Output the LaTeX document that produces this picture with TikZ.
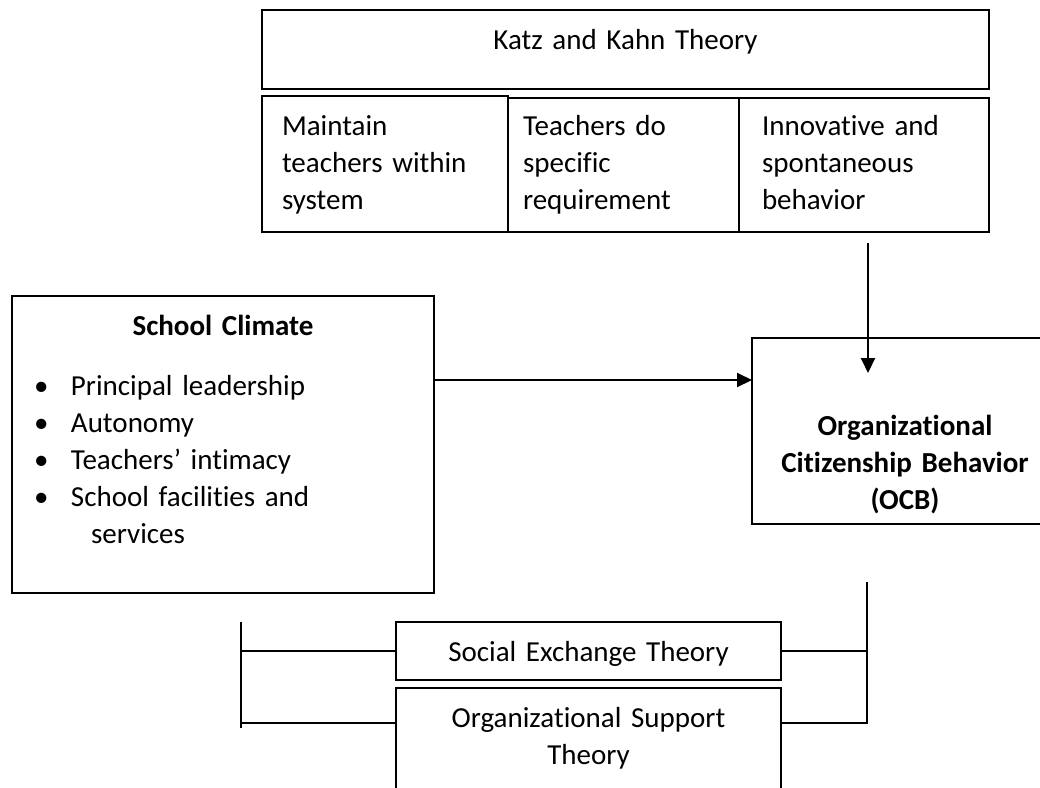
\documentclass[tikz,border=0pt]{standalone}
\usepackage{fontspec}
\setmainfont{Carlito}[Ligatures=CommonOff]
\usetikzlibrary{arrows.meta, positioning, calc}

\newcommand{\bodysize}{\fontsize{29}{37}\selectfont}
\newcommand{\cbul}{\makebox[41pt][l]{\hspace{4pt}\textbullet}}

\begin{document}
\begin{tikzpicture}[x=1pt, y=-1pt,
        box/.style={draw, line width=2pt, outer sep=0pt, anchor=north west, inner xsep=18pt, inner ysep=0pt, text height=39pt, align=left, font=\bodysize},
        bold/.style={font=\bodysize\bfseries},
        line/.style={line width=2pt},
        arr/.style={line width=2pt, -{Triangle[length=15pt, width=14pt]}}
    ]
        \clip (0,0) rectangle (1040,787);

        % Katz and Kahn
        \node[box, text width=691pt, text depth=40pt, align=center] (katz) at (262,10) {Katz and Kahn Theory};
        \node[box, inner xsep=20pt, text width=206pt, text depth=97pt] (maintain) at (262,96) {Maintain\\teachers within\\system};
        \node[box, inner xsep=15pt, text width=201pt, text height=37pt, text depth=97pt] (teach) at (508,98) {Teachers do\\specific\\requirement};
        \node[box, inner xsep=23pt, text width=204pt, text height=37pt, text depth=97pt] (innov) at (739,98) {Innovative and\\spontaneous\\behavior};

        \node[box, text width=386pt, text depth=258pt] (climate) at (12,296) {\makebox[\linewidth]{\bfseries School Climate}\\[23pt]
            \cbul Principal leadership\\
            \cbul Autonomy\\
            \cbul Teachers’ intimacy\\
            \cbul School facilities and\\
            \hspace*{61pt}services};

        \node[box, bold, text width=270pt, text height=97pt, text depth=89pt, align=center] (ocb) at (752,338) {Organizational\\Citizenship Behavior\\(OCB)};

        \node[box, text width=349pt, text depth=19pt, align=center] (social) at (396,622) {Social Exchange Theory};
        \node[box, text width=349pt, text depth=100pt, align=center] (support) at (396,688) {Organizational Support\\Theory};

        \draw[arr] ([yshift=64.5pt]climate.east) coordinate (c1) -- (c1 -| ocb.west);
        \coordinate (k1) at ($(innov.south)+(4,11)$);
        \draw[arr] (k1) -- ($(k1 |- ocb.north)+(0,35)$);

        % theory brackets
        \coordinate (ltop) at (241,622);
        \coordinate (lbot) at (241,728);
        \coordinate (rtop) at (867,582);
        \coordinate (rbot) at (867,723);
        \draw[line] (ltop) -- (lbot);
        \draw[line] (social.west) -- (social.west -| ltop);
        \draw[line] (rbot -| support.west) -- (rbot -| ltop);
        \draw[line] (rtop) -- (rbot) -- (rbot -| support.east);
        \draw[line] (social.east) -- (social.east -| rtop);
    \end{tikzpicture}
\end{document}
